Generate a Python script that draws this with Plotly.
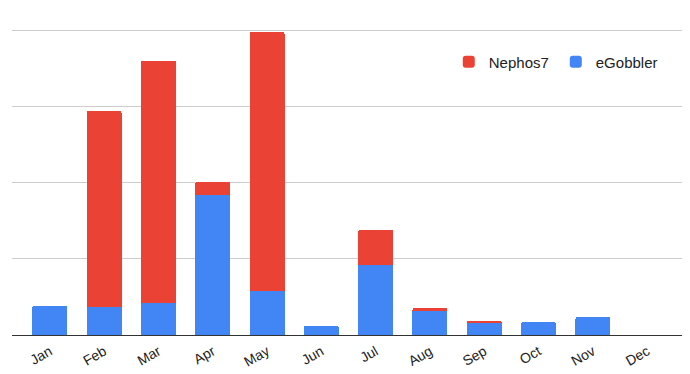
import plotly.graph_objects as go

months = ["Jan", "Feb", "Mar", "Apr", "May", "Jun", "Jul", "Aug", "Sep", "Oct", "Nov", "Dec"]
egobbler = [7.6, 7.4, 8.4, 36.8, 11.6, 2.4, 18.4, 6.3, 3.2, 3.4, 4.7, 0]
nephos7 = [0, 51.5, 63.7, 3.5, 68.1, 0, 9.2, 0.8, 0.5, 0, 0, 0]

fig = go.Figure()
fig.add_trace(go.Bar(x=months, y=egobbler, name="eGobbler", marker_color="#4285f4", marker_line_width=0))
fig.add_trace(go.Bar(x=months, y=nephos7, name="Nephos7", marker_color="#ea4335", marker_line_width=0))

fig.update_layout(
    barmode="stack",
    bargap=0.355,
    barcornerradius=2,
    width=682, height=366,
    margin=dict(l=4, r=5, t=15, b=39, autoexpand=False),
    plot_bgcolor="white", paper_bgcolor="white",
    font=dict(family="Arial, Liberation Sans, sans-serif", size=14, color="#222222"),
    showlegend=True,
    legend=dict(orientation="h", traceorder="reversed", x=0.649, xanchor="left", y=0.928, yanchor="top",
                font=dict(size=15, color="#222222"), bgcolor="rgba(0,0,0,0)",
                itemwidth=30, entrywidth=62),
    xaxis=dict(range=[-0.695, 11.695], tickangle=-30, showline=True, linecolor="#333333", linewidth=1,
               showgrid=False, ticks="", tickfont=dict(size=14), automargin=False, ticklabelstandoff=2),
    yaxis=dict(range=[0, 82], dtick=20, showticklabels=False, showgrid=True, gridcolor="#cccccc",
               zeroline=False, ticks="", automargin=False),
)

fig.write_html("out.html")
